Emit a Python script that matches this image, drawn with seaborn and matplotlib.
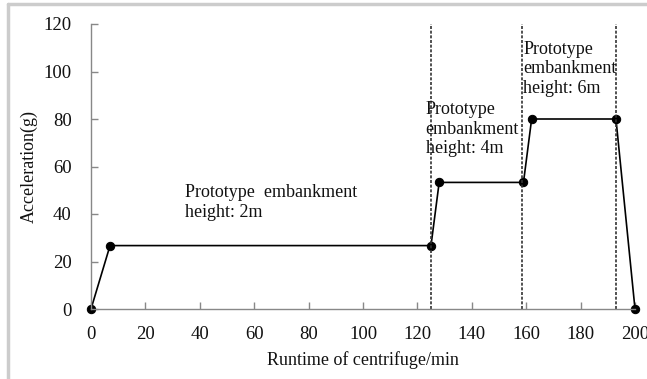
import matplotlib
matplotlib.use("Agg")
import matplotlib.pyplot as plt
import seaborn as sns
import pandas as pd
from matplotlib.lines import Line2D

runtime = [0, 7, 125, 128, 159, 162, 193, 200]
acceleration = [0, 26.7, 26.7, 53.3, 53.3, 80, 80, 0]
stage_bounds = [125, 158.5, 193]
labels = ["Prototype  embankment\nheight: 2m",
          "Prototype\nembankment\nheight: 4m",
          "Prototype\nembankment\nheight: 6m"]
label_pos = [(34.5, 52.5), (123, 87.5), (159, 113)]

sns.set_theme(style="white")
plt.rcParams['font.family'] = ['Liberation Serif', 'DejaVu Serif']

fig = plt.figure(figsize=(6.47, 3.79), dpi=100)
ax = fig.add_axes([91/647, 1 - 309/379, (635-91)/647, (309-24)/379])

df = pd.DataFrame({"x": runtime, "y": acceleration})
sns.lineplot(data=df, x="x", y="y", ax=ax, color="black", lw=1.2,
             marker="o", markersize=6, markeredgecolor="black", markerfacecolor="black")

for b in stage_bounds:
    ax.plot([b, b], [0, 120], color="#333333", lw=1.2, ls=(0, (1.8, 1.0)))

for t, (x, y) in zip(labels, label_pos):
    ax.text(x, y, t, fontsize=13, va="top", ha="left", color="#111111", linespacing=1.2)

ax.set_xlim(0, 200)
ax.set_ylim(0, 120)
ax.set_xticks(range(0, 201, 20))
ax.set_yticks(range(0, 121, 20))
for s in ["top", "right"]:
    ax.spines[s].set_visible(False)
for s in ["left", "bottom"]:
    ax.spines[s].set_color("#888888")
    ax.spines[s].set_linewidth(1.0)
ax.tick_params(axis="both", direction="in", length=5, color="#888888", width=1,
               labelsize=13.5, labelcolor="#111111", left=True, bottom=True)
ax.tick_params(axis="x", pad=12)
ax.tick_params(axis="y", pad=14)
ax.set_xlabel("Runtime of centrifuge/min", fontsize=13, color="#111111", labelpad=6)
ax.set_ylabel("Acceleration(g)", fontsize=13, color="#111111", labelpad=4)
for l in ax.get_lines():
    l.set_clip_on(False)

fig.add_artist(Line2D([8/647, 1], [1 - 4/379, 1 - 4/379], transform=fig.transFigure,
                      color="#cccccc", lw=2.5))
fig.add_artist(Line2D([8/647, 8/647], [0, 1 - 4/379], transform=fig.transFigure,
                      color="#cccccc", lw=2.5))
fig.savefig("out.png", dpi=100)
